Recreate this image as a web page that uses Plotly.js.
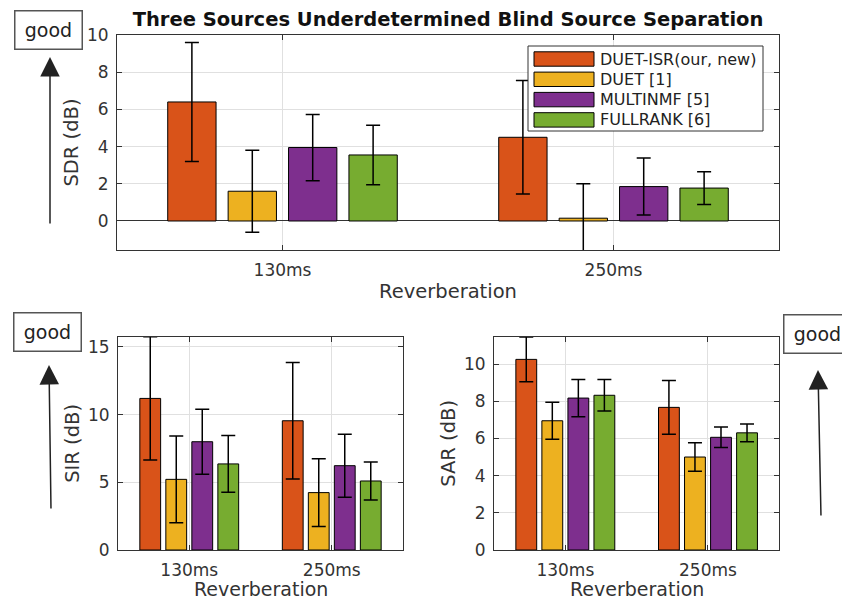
<!DOCTYPE html>
<html><head><meta charset="utf-8">
<script src="https://cdn.plot.ly/plotly-3.0.1.min.js"></script>
<style>html,body{margin:0;padding:0;background:#fff}#chart{width:842px;height:600px}</style>
</head><body><div id="chart"></div>
<script>
// ---- data ----
const reverb = ['130ms', '250ms'];
const methods = ['DUET-ISR(our, new)', 'DUET [1]', 'MULTINMF [5]', 'FULLRANK [6]'];
const colors = ['#D95319', '#EDB120', '#7E2F8E', '#77AC30'];

const sdrMean = [[6.4, 4.5], [1.6, 0.15], [3.95, 1.85], [3.55, 1.77]];
const sdrErr  = [[3.2, 3.05], [2.2, 1.85], [1.78, 1.53], [1.6, 0.88]];

const sirMean = [[11.2, 9.55], [5.22, 4.24], [8.0, 6.23], [6.36, 5.1]];
const sirErr  = [[4.55, 4.3], [3.2, 2.5], [2.4, 2.33], [2.1, 1.4]];

const sarMean = [[10.25, 7.67], [6.95, 5.0], [8.17, 6.06], [8.32, 6.3]];
const sarErr  = [[1.2, 1.45], [1.0, 0.77], [1.0, 0.55], [0.85, 0.48]];

const titleText = 'Three Sources Underdetermined Blind Source Separation';
const xTitle = 'Reverberation';
const yTitles = ['SDR (dB)', 'SIR (dB)', 'SAR (dB)'];
const goodLabel = 'good';

// ---- helpers ----
const W = 842, H = 600;
const px = x => x / W;
const py = y => 1 - y / H;
const FONT = 'DejaVu Sans';
const AX = '#333333';
const GRID = '#e0e0e0';

const panels = [
  {mean: sdrMean, err: sdrErr, xa: 'x', ya: 'y'},
  {mean: sirMean, err: sirErr, xa: 'x2', ya: 'y2'},
  {mean: sarMean, err: sarErr, xa: 'x3', ya: 'y3'}
];

const traces = [];
panels.forEach(p => {
  methods.forEach((m, i) => {
    traces.push({
      type: 'bar', name: m, x: reverb, y: p.mean[i],
      xaxis: p.xa, yaxis: p.ya, showlegend: false,
      marker: {color: colors[i], line: {color: '#000', width: 1}},
      error_y: {type: 'data', array: p.err[i], visible: true, color: '#000', thickness: 1.5, width: 7}
    });
  });
});

function xAxis(domain, anchor, withTitle) {
  const a = {
    domain: domain, anchor: anchor, type: 'category', range: [-0.5, 1.5],
    showgrid: true, gridcolor: GRID, gridwidth: 1,
    showline: true, linecolor: AX, linewidth: 1, mirror: 'ticks',
    ticks: 'inside', ticklen: 5, tickcolor: AX, ticklabelstandoff: 5,
    tickfont: {family: FONT, size: 17, color: AX},
    fixedrange: true, automargin: false
  };
  if (withTitle) a.title = {text: xTitle, font: {family: FONT, size: 19.5, color: AX}, standoff: 4};
  return a;
}
function yAxis(domain, anchor, range, dtick, title, zl) {
  return {
    domain: domain, anchor: anchor, range: range, dtick: dtick, tick0: 0,
    showgrid: true, gridcolor: GRID, gridwidth: 1,
    zeroline: zl, zerolinecolor: AX, zerolinewidth: 1,
    showline: true, linecolor: AX, linewidth: 1, mirror: 'ticks',
    ticks: 'inside', ticklen: 5, tickcolor: AX, ticklabelstandoff: 4,
    tickfont: {family: FONT, size: 17, color: AX},
    title: {text: title, font: {family: FONT, size: 19.5, color: AX}, standoff: 3},
    fixedrange: true, automargin: false
  };
}

// legend drawn as shapes + annotations
const shapes = [];
const annotations = [];
shapes.push({type: 'rect', xref: 'paper', yref: 'paper', layer: 'above',
  x0: px(528), x1: px(763), y0: py(131), y1: py(46),
  line: {color: AX, width: 1}, fillcolor: '#ffffff'});
methods.forEach((m, i) => {
  const cy = 59 + i * 20.3;
  shapes.push({type: 'rect', xref: 'paper', yref: 'paper', layer: 'above',
    x0: px(534), x1: px(594), y0: py(cy + 7.2), y1: py(cy - 7.2),
    line: {color: '#000', width: 1}, fillcolor: colors[i]});
  annotations.push({xref: 'paper', yref: 'paper', x: px(598), y: py(cy),
    xanchor: 'left', yanchor: 'middle', showarrow: false, text: m,
    font: {family: FONT, size: 16, color: '#222'}});
});

// bottom x-axis titles (placed by hand near the figure's lower edge)
[[260.5, 589], [636.6, 589]].forEach(c => {
  annotations.push({xref: 'paper', yref: 'paper', x: px(c[0]), y: py(c[1]),
    xanchor: 'center', yanchor: 'middle', showarrow: false, text: xTitle,
    font: {family: FONT, size: 19, color: AX}});
});

// "good" boxes and arrows
const goods = [
  {cx: 48, cy: 30.5, tip: [50, 57], tail: [50, 225]},
  {cx: 47, cy: 331.5, tip: [49, 365], tail: [51, 510]},
  {cx: 817, cy: 333.5, tip: [818, 370], tail: [821, 517]}
];
goods.forEach(g => {
  annotations.push({xref: 'paper', yref: 'paper', x: px(g.cx), y: py(g.cy),
    xanchor: 'center', yanchor: 'middle', showarrow: false, text: goodLabel,
    width: 64, height: 35, borderpad: 1, bordercolor: '#555', borderwidth: 1.5, bgcolor: '#fff',
    font: {family: FONT, size: 19, color: '#222'}});
  annotations.push({xref: 'paper', yref: 'paper', x: px(g.tip[0]), y: py(g.tip[1]),
    ax: g.tail[0] - g.tip[0], ay: g.tail[1] - g.tip[1], axref: 'pixel', ayref: 'pixel',
    showarrow: true, arrowhead: 2, arrowsize: 2.6, arrowwidth: 1.5, arrowcolor: '#222', text: ''});
});

const layout = {
  width: W, height: H, margin: {l: 0, r: 0, t: 0, b: 0},
  paper_bgcolor: '#fff', plot_bgcolor: '#fff',
  barmode: 'group', bargap: 0.27, bargroupgap: 0.2,
  showlegend: false,
  title: {text: titleText, x: px(448), xanchor: 'center', y: py(19), yanchor: 'middle',
    font: {family: FONT, size: 19.5, weight: 'bold', color: '#111'}},
  xaxis: xAxis([px(117), px(779)], 'y', true),
  yaxis: yAxis([py(250), py(35)], 'x', [-1.56, 10], 2, yTitles[0], true),
  xaxis2: xAxis([px(118), px(403)], 'y2', false),
  yaxis2: yAxis([py(550), py(336.7)], 'x2', [0, 15.76], 5, yTitles[1], false),
  xaxis3: xAxis([px(494), px(779.3)], 'y3', false),
  yaxis3: yAxis([py(550), py(336.7)], 'x3', [0, 11.47], 2, yTitles[2], false),
  shapes: shapes, annotations: annotations
};

Plotly.newPlot('chart', traces, layout, {displayModeBar: false, staticPlot: true});
</script>
</body></html>
